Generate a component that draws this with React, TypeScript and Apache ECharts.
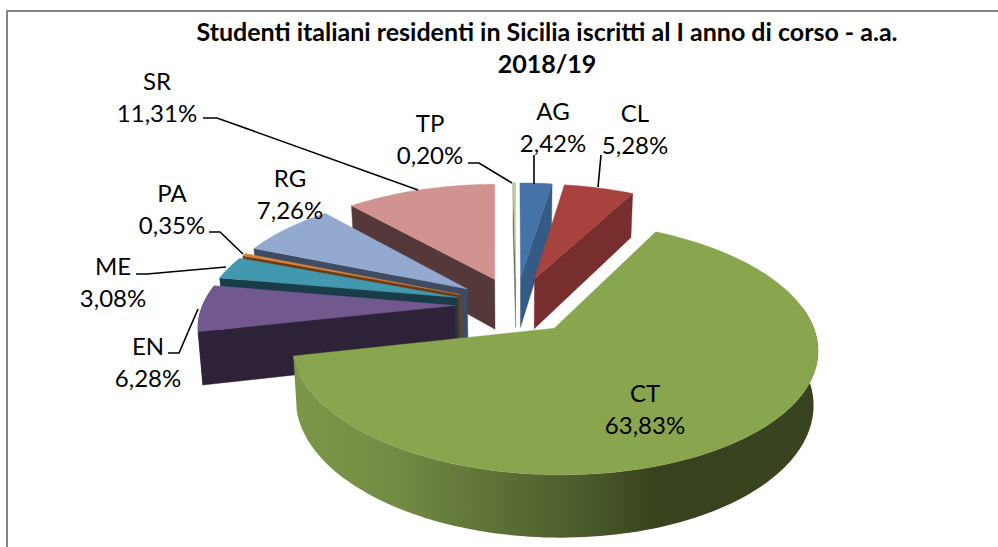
import React, { useEffect, useRef } from "react";
import * as echarts from "echarts";

const titleText = "Studenti italiani residenti in Sicilia iscritti al I anno di corso - a.a.\n2018/19";
const categories = ["AG", "CL", "CT", "EN", "ME", "PA", "RG", "SR", "TP"];
const shares = [2.42, 5.28, 63.83, 6.28, 3.08, 0.35, 7.26, 11.31, 0.2];

const topColors = ["#4573A7", "#A8423F", "#89A54E", "#71588F", "#4198AF", "#DB843D", "#93A9CF", "#D19392", "#B9CD96"];
const wallColors = ["#345A85", "#772E2C", "#37431E", "#2E2239", "#1A3C48", "#6B3C14", "#3F4B63", "#55393A", "#5A6648"];

// Label anchors and leader lines (annotation layout, screen pixels)
const labelPos: Record<string, number[]> = {
  AG: [553, 126], CL: [635, 128], CT: [645, 408], EN: [148, 361], ME: [113, 281],
  PA: [172, 208], RG: [290, 193], SR: [157, 96], TP: [430, 138],
};
const leaders: Record<string, number[][]> = {
  AG: [[534, 155], [534, 184]],
  CL: [[601, 155], [598, 187]],
  EN: [[168, 353], [179, 353], [198, 309]],
  ME: [[136, 274], [147, 274], [226, 267]],
  PA: [[209, 232], [220, 232], [243, 254]],
  SR: [[203, 118], [217, 118], [418, 190]],
  TP: [[468, 163], [479, 163], [512, 183]],
};

// Projection of the exploded 3D pie
const OX = 516, OY = 305, AX = 252, BY = 116.7, PERSP = 0.151, EXPLODE = 0.243, H = 51.5, KB = 0.985;
const rad = (d: number) => (d * Math.PI) / 180;
const total = shares.reduce((a, b) => a + b, 0);
const project = (X: number, Z: number) => {
  const s = 1 / (1 + PERSP * Z);
  return [OX + AX * X * s, OY - BY * Z * s, s];
};
const drop = (p: number[]) => [OX + (p[0] - OX) * KB, p[1] + H * p[2]];

const angles: number[][] = [];
shares.reduce((acc, v) => {
  const a = acc + (v / total) * 360;
  angles.push([acc, a]);
  return a;
}, 0);
const depth = angles.map(([a, b]) => Math.cos(rad((a + b) / 2)));
const paintRank = depth.map((d) => depth.filter((o) => o > d).length);
const xy = (p: number[]) => [p[0], p[1]];

function renderSlice(params: any, api: any) {
  const i = params.dataIndex;
  const [a0, a1] = angles[i];
  const mid = rad((a0 + a1) / 2);
  const ex = EXPLODE * Math.sin(mid), ez = EXPLODE * Math.cos(mid);
  const pt = (deg: number) => project(ex + Math.sin(rad(deg)), ez + Math.cos(rad(deg)));
  const arc = (from: number, to: number) => {
    const n = Math.max(1, Math.ceil((to - from) / 1.5));
    const out: number[][] = [];
    for (let k = 0; k <= n; k++) out.push(pt(from + ((to - from) * k) / n));
    return out;
  };
  const apex = project(ex, ez);
  const z = 10 + paintRank[i] * 4;
  const wall = wallColors[i];
  const poly = (points: number[][], fill: any, z2: number) => ({
    type: "polygon",
    z2,
    shape: { points },
    style: { fill, stroke: typeof fill === "string" ? fill : undefined, lineWidth: 0.4 },
  });
  const children: any[] = [];
  if (Math.sin(rad(a0)) < 0) {
    const e = pt(a0);
    children.push(poly([xy(apex), xy(e), drop(e), drop(apex)], wall, z));
  }
  if (Math.sin(rad(a1)) > 0.001) {
    const e = pt(a1);
    children.push(poly([xy(apex), xy(e), drop(e), drop(apex)], wall, z));
  }
  const from = Math.max(a0, 80), to = Math.min(a1, 280);
  if (to > from) {
    const top = arc(from, to);
    const fill =
      categories[i] === "CT"
        ? new echarts.graphic.LinearGradient(
            295, 0, 818, 0,
            [
              { offset: 0, color: "#7D9749" },
              { offset: 0.2, color: "#728A43" },
              { offset: 0.39, color: "#5D7036" },
              { offset: 0.56, color: "#4B5A2B" },
              { offset: 0.69, color: "#37431E" },
              { offset: 1, color: "#38441F" },
            ],
            true
          )
        : wall;
    children.push(poly([...top.map(xy), ...top.map(drop).reverse()], fill, z + 1));
  }
  children.push(poly([xy(apex), ...arc(a0, a1).map(xy)], topColors[i], z + 2));

  const name = api.value(0) !== undefined ? categories[i] : "";
  const pos = labelPos[name];
  const value = api.value(1).toFixed(2).replace(".", ",") + "%";
  if (leaders[name]) {
    children.push({
      type: "polyline",
      z2: 100,
      shape: { points: leaders[name] },
      style: { fill: "none", stroke: "#000", lineWidth: 1.6 },
    });
  }
  children.push({
    type: "text",
    z2: 101,
    x: pos[0],
    y: pos[1],
    style: {
      text: `${name}\n${value}`,
      fill: "#000",
      font: "24px Lato",
      lineHeight: 32,
      align: "center",
      verticalAlign: "middle",
    },
  });
  return { type: "group", children };
}

export default function App() {
  const ref = useRef<HTMLDivElement>(null);
  useEffect(() => {
    const chart = echarts.init(ref.current!, undefined, { renderer: "svg" });
    chart.setOption({
      animation: false,
      backgroundColor: "#fff",
      title: {
        text: titleText,
        left: 542,
        top: 10,
        textAlign: "center",
        textStyle: { fontFamily: "Lato", fontWeight: "bold", fontSize: 25, lineHeight: 32, color: "#000" },
      },
      graphic: [
        {
          type: "rect",
          z: -1,
          shape: { x: 7, y: 11, width: 1100, height: 700 },
          style: { fill: "#fff", stroke: "#868686", lineWidth: 2 },
        },
      ],
      series: [
        {
          type: "custom",
          coordinateSystem: "none",
          renderItem: renderSlice,
          data: categories.map((c, i) => [i, shares[i], c]),
          clip: false,
        },
      ],
    });
    return () => chart.dispose();
  }, []);
  return <div ref={ref} style={{ position: "absolute", left: 0, top: 0, width: 998, height: 547 }} />;
}
